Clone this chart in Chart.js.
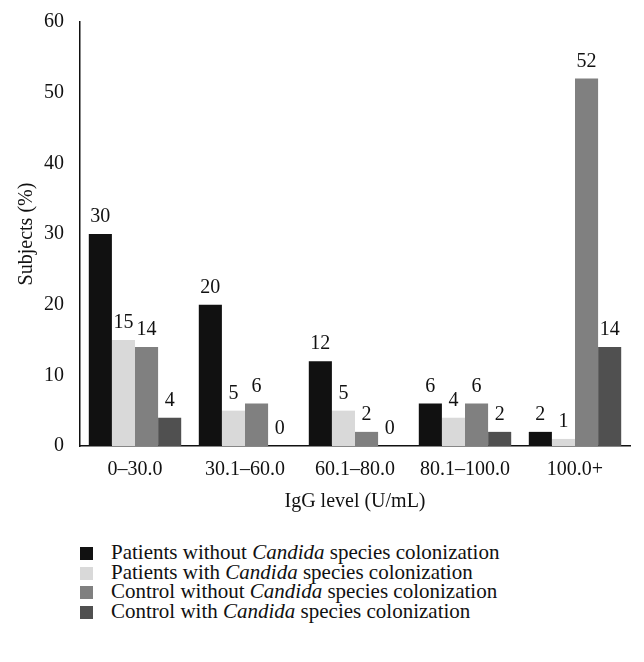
<!DOCTYPE html>
<html>
<head>
<meta charset="utf-8">
<script src="https://cdn.jsdelivr.net/npm/chart.js@4.4.1/dist/chart.umd.min.js"></script>
<style>
  body { margin: 0; background: #fff; font-family: "Liberation Serif", "DejaVu Serif", serif; }
  #wrap { position: relative; width: 644px; height: 662px; }
  #chartBox { position: absolute; left: 0; top: 0; width: 644px; height: 518px; }
  #legend { position: absolute; left: 80px; top: 542px; font-size: 21px; color: #111; }
  .row { height: 19.7px; line-height: 20px; white-space: nowrap; }
  .sw { display: inline-block; width: 13px; height: 13px; margin-right: 18px; vertical-align: -1px; }
</style>
</head>
<body>
<div id="wrap">
  <div id="chartBox"><canvas id="igg"></canvas></div>
  <div id="legend"></div>
</div>
<script>
const categories = ["0\u201330.0", "30.1\u201360.0", "60.1\u201380.0", "80.1\u2013100.0", "100.0+"];
const patientsWithout = [30, 20, 12, 6, 2];
const patientsWith = [15, 5, 5, 4, 1];
const controlWithout = [14, 6, 2, 6, 52];
const controlWith = [4, 0, 0, 2, 14];
const seriesNames = [
    ["Patients without", "species colonization"],
    ["Patients with", "species colonization"],
    ["Control without", "species colonization"],
    ["Control with", "species colonization"]
];
const colors = ["#111111", "#d9d9d9", "#808080", "#505050"];

const font = "'Liberation Serif', 'DejaVu Serif', serif";

// value labels above each bar
const barLabels = {
    id: "barLabels",
    afterDatasetsDraw(chart) {
        const ctx = chart.ctx;
        ctx.save();
        ctx.font = "20px " + font;
        ctx.fillStyle = "#111";
        ctx.textAlign = "center";
        ctx.textBaseline = "bottom";
        chart.data.datasets.forEach((ds, i) => {
            chart.getDatasetMeta(i).data.forEach((bar, j) => {
                ctx.fillText(ds.data[j], bar.x, bar.y - 7);
            });
        });
        ctx.restore();
    }
};

const data = [patientsWithout, patientsWith, controlWithout, controlWith];

new Chart(document.getElementById("igg"), {
    type: "bar",
    data: {
        labels: categories,
        datasets: data.map((vals, i) => ({
            label: seriesNames[i].join(" Candida "),
            data: vals,
            backgroundColor: colors[i],
            borderWidth: 0,
            barPercentage: 1,
            categoryPercentage: 0.84
        }))
    },
    options: {
        responsive: true,
        maintainAspectRatio: false,
        animation: false,
        layout: { padding: { left: 0, right: 14, top: 22, bottom: 0 } },
        plugins: {
            legend: { display: false },
            tooltip: { enabled: false }
        },
        scales: {
            x: {
                grid: { display: false },
                border: { display: true, color: "#111", width: 1.5 },
                ticks: { color: "#111", font: { family: font, size: 20 }, padding: 4 },
                title: { display: true, text: "IgG level (U/mL)", color: "#111", font: { family: font, size: 20 }, padding: { top: 4 } }
            },
            y: {
                min: 0,
                max: 60,
                grid: { display: false },
                border: { display: true, color: "#111", width: 1.5 },
                ticks: { stepSize: 10, color: "#111", font: { family: font, size: 20 }, padding: 8 },
                title: { display: true, text: "Subjects (%)", color: "#111", font: { family: font, size: 20 }, padding: { top: 15, bottom: 4 } },
                afterFit(scale) { scale.width = 80; }
            }
        }
    },
    plugins: [barLabels]
});

// legend with italic genus name
const legend = document.getElementById("legend");
seriesNames.forEach((parts, i) => {
    const row = document.createElement("div");
    row.className = "row";
    row.innerHTML = '<span class="sw" style="background:' + colors[i] + '"></span>' +
        parts[0] + " <i>Candida</i> " + parts[1];
    legend.appendChild(row);
});
</script>
</body>
</html>
